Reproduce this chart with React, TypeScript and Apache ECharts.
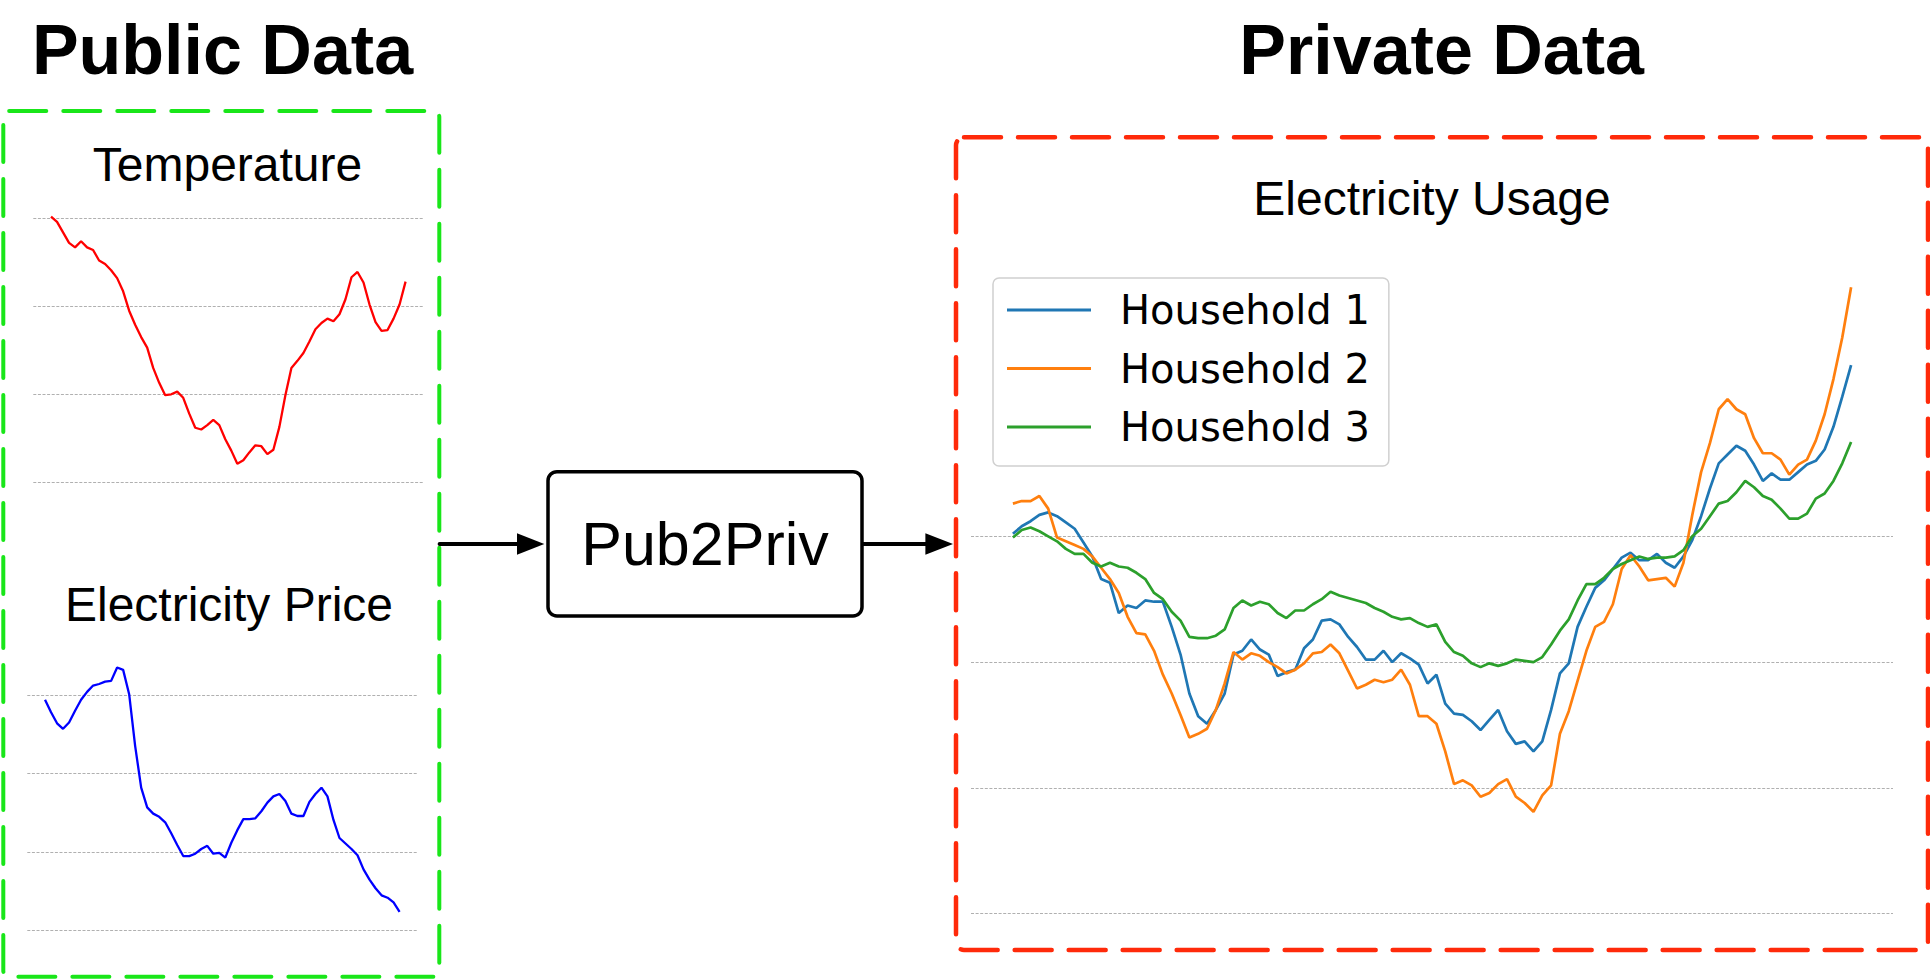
import React, { useEffect, useRef } from 'react';
import * as echarts from 'echarts';

// Public data (arbitrary units; dotted grid lines sit at 0, 1, 2, 3)
const temperature = [
  3.02, 2.96, 2.84, 2.72, 2.67, 2.74, 2.67, 2.64, 2.52, 2.48,
  2.41, 2.32, 2.17, 1.95, 1.79, 1.65, 1.53, 1.30, 1.13, 0.99,
  1.00, 1.03, 0.96, 0.78, 0.62, 0.60, 0.65, 0.71, 0.65, 0.49,
  0.36, 0.21, 0.25, 0.34, 0.42, 0.41, 0.32, 0.37, 0.63, 0.99,
  1.30, 1.38, 1.47, 1.60, 1.74, 1.81, 1.86, 1.83, 1.91, 2.08,
  2.33, 2.39, 2.27, 2.02, 1.82, 1.72, 1.73, 1.86, 2.02, 2.28,
];

const electricityPrice = [
  2.94, 2.78, 2.64, 2.57, 2.65, 2.80, 2.94, 3.04, 3.12, 3.14,
  3.17, 3.18, 3.35, 3.32, 3.01, 2.35, 1.82, 1.57, 1.49, 1.45,
  1.38, 1.24, 1.09, 0.95, 0.95, 0.98, 1.04, 1.08, 0.98, 0.99,
  0.93, 1.12, 1.28, 1.42, 1.42, 1.43, 1.52, 1.63, 1.71, 1.74,
  1.65, 1.49, 1.46, 1.46, 1.64, 1.74, 1.82, 1.71, 1.41, 1.18,
  1.11, 1.04, 0.96, 0.78, 0.65, 0.54, 0.45, 0.42, 0.36, 0.24,
];

// Private data: electricity usage of three households
const household1 = [
  3.02, 3.08, 3.12, 3.17, 3.19, 3.16, 3.11, 3.06, 2.95, 2.84,
  2.66, 2.63, 2.39, 2.45, 2.43, 2.49, 2.48, 2.48, 2.28, 2.06,
  1.75, 1.57, 1.51, 1.62, 1.75, 2.06, 2.09, 2.18, 2.10, 2.06,
  1.89, 1.92, 1.94, 2.11, 2.18, 2.33, 2.34, 2.30, 2.20, 2.12,
  2.02, 2.02, 2.09, 2.00, 2.07, 2.03, 1.98, 1.83, 1.90, 1.67,
  1.59, 1.58, 1.53, 1.46, 1.54, 1.62, 1.45, 1.35, 1.37, 1.29,
  1.37, 1.62, 1.91, 1.99, 2.28, 2.44, 2.59, 2.65, 2.74, 2.83,
  2.87, 2.81, 2.81, 2.86, 2.79, 2.75, 2.84, 2.97, 3.16, 3.38,
  3.58, 3.65, 3.72, 3.68, 3.57, 3.44, 3.50, 3.45, 3.45, 3.51,
  3.57, 3.60, 3.69, 3.87, 4.11, 4.36,
];

const household2 = [
  3.26, 3.28, 3.28, 3.32, 3.22, 2.99, 2.96, 2.93, 2.90, 2.84,
  2.75, 2.66, 2.55, 2.36, 2.23, 2.22, 2.09, 1.90, 1.75, 1.58,
  1.40, 1.43, 1.47, 1.62, 1.83, 2.08, 2.02, 2.07, 2.05, 2.00,
  1.96, 1.91, 1.94, 1.99, 2.07, 2.08, 2.14, 2.07, 1.93, 1.79,
  1.82, 1.86, 1.84, 1.86, 1.94, 1.82, 1.57, 1.57, 1.51, 1.29,
  1.03, 1.06, 1.02, 0.93, 0.96, 1.03, 1.07, 0.93, 0.88, 0.81,
  0.94, 1.02, 1.43, 1.61, 1.85, 2.09, 2.28, 2.32, 2.46, 2.74,
  2.85, 2.76, 2.65, 2.66, 2.67, 2.60, 2.79, 3.17, 3.51, 3.74,
  4.01, 4.09, 4.01, 3.97, 3.78, 3.66, 3.66, 3.61, 3.49, 3.57,
  3.61, 3.76, 3.97, 4.25, 4.58, 4.98,
];

const household3 = [
  2.99, 3.05, 3.07, 3.04, 3.00, 2.96, 2.90, 2.86, 2.86, 2.79,
  2.76, 2.79, 2.76, 2.75, 2.71, 2.66, 2.55, 2.50, 2.40, 2.33,
  2.20, 2.19, 2.19, 2.21, 2.26, 2.43, 2.49, 2.45, 2.48, 2.46,
  2.39, 2.35, 2.41, 2.41, 2.46, 2.50, 2.56, 2.53, 2.51, 2.49,
  2.47, 2.43, 2.40, 2.36, 2.34, 2.35, 2.31, 2.28, 2.30, 2.16,
  2.08, 2.05, 1.99, 1.96, 1.99, 1.97, 1.99, 2.02, 2.01, 2.00,
  2.04, 2.14, 2.25, 2.34, 2.49, 2.62, 2.62, 2.67, 2.74, 2.78,
  2.81, 2.84, 2.82, 2.83, 2.83, 2.84, 2.89, 3.00, 3.06, 3.16,
  3.26, 3.28, 3.35, 3.44, 3.39, 3.32, 3.29, 3.22, 3.14, 3.14,
  3.18, 3.30, 3.34, 3.44, 3.58, 3.75,
];

const householdNames = ['Household 1', 'Household 2', 'Household 3'];
const householdColors = ['#1f77b4', '#ff7f0e', '#2ca02c'];
const householdSeries = [household1, household2, household3];

const SANS = "'Liberation Sans', Arial, Helvetica, sans-serif";
const DEJAVU = "'DejaVu Sans', sans-serif";

const toPairs = (arr: number[]) => arr.map((v, i) => [i, v]);

const hiddenX = (len: number, gridIndex: number) => ({
  type: 'value',
  gridIndex,
  min: -0.05 * (len - 1),
  max: 1.05 * (len - 1),
  axisLine: { show: false },
  axisTick: { show: false },
  axisLabel: { show: false },
  splitLine: { show: false },
});

const dottedY = (gridIndex: number) => ({
  type: 'value',
  gridIndex,
  min: 0,
  max: 3,
  interval: 1,
  axisLine: { show: false },
  axisTick: { show: false },
  axisLabel: { show: false },
  splitLine: { show: true, lineStyle: { color: '#b0b0b0', width: 1.2, type: [3, 1.6] } },
});

const text = (t: string, x: number, y: number, font: string) => ({
  type: 'text',
  x,
  y,
  z: 10,
  style: { text: t, font, fill: '#000', textAlign: 'center', textVerticalAlign: 'middle' },
});

export default function App() {
  const ref = useRef<HTMLDivElement>(null);

  useEffect(() => {
    if (!ref.current) return;
    const chart = echarts.init(ref.current, null, { renderer: 'svg' });

    const option: any = {
      animation: false,
      backgroundColor: '#ffffff',
      grid: [
        { left: 33.3, top: 218.3, width: 390, height: 264 },
        { left: 27.3, top: 695, width: 390, height: 235.7 },
        { left: 971, top: 536.3, width: 922, height: 377.4 },
      ],
      xAxis: [
        hiddenX(temperature.length, 0),
        hiddenX(electricityPrice.length, 1),
        hiddenX(household1.length, 2),
      ],
      yAxis: [dottedY(0), dottedY(1), dottedY(2)],
      legend: {
        data: householdNames,
        orient: 'vertical',
        left: 993,
        top: 278,
        padding: [12, 19, 19, 14],
        itemWidth: 84,
        itemHeight: 3,
        itemGap: 18.5,
        icon: 'rect',
        borderColor: '#d0d0d0',
        borderWidth: 1.5,
        borderRadius: 6,
        backgroundColor: 'rgba(255,255,255,0.8)',
        selectedMode: false,
        textStyle: {
          fontFamily: DEJAVU,
          fontSize: 40,
          lineHeight: 40,
          color: '#000',
          padding: [0, 0, 0, 24],
        },
      },
      series: [
        {
          name: 'Temperature',
          type: 'line',
          xAxisIndex: 0,
          yAxisIndex: 0,
          data: toPairs(temperature),
          showSymbol: false,
          symbol: 'none',
          clip: false,
          lineStyle: { color: '#ff0000', width: 2.3 },
          itemStyle: { color: '#ff0000' },
        },
        {
          name: 'Electricity Price',
          type: 'line',
          xAxisIndex: 1,
          yAxisIndex: 1,
          data: toPairs(electricityPrice),
          showSymbol: false,
          symbol: 'none',
          clip: false,
          lineStyle: { color: '#0000ff', width: 2.3 },
          itemStyle: { color: '#0000ff' },
        },
        ...householdSeries.map((values, k) => ({
          name: householdNames[k],
          type: 'line',
          xAxisIndex: 2,
          yAxisIndex: 2,
          data: toPairs(values),
          showSymbol: false,
          symbol: 'none',
          clip: false,
          lineStyle: { color: householdColors[k], width: 2.7 },
          itemStyle: { color: householdColors[k] },
        })),
      ],
      graphic: [
        // dashed frames
        {
          type: 'rect',
          z: 1,
          shape: { x: 3.3, y: 111, width: 436, height: 865.7, r: 6 },
          style: { fill: 'none', stroke: '#19e619', lineWidth: 4, lineDash: [37, 17], lineCap: 'round' },
        },
        {
          type: 'rect',
          z: 1,
          shape: { x: 956, y: 137.3, width: 972, height: 812.7, r: 8 },
          style: { fill: 'none', stroke: '#ff2a0a', lineWidth: 4.5, lineDash: [37, 17], lineCap: 'round' },
        },
        // arrows and the model box
        {
          type: 'line',
          z: 5,
          shape: { x1: 439.6, y1: 544, x2: 520, y2: 544 },
          style: { stroke: '#000', lineWidth: 4, lineCap: 'round' },
        },
        {
          type: 'polygon',
          z: 5,
          shape: { points: [[517, 533.3], [544.3, 544], [517, 554.7]] },
          style: { fill: '#000' },
        },
        {
          type: 'rect',
          z: 5,
          shape: { x: 548, y: 471.7, width: 314, height: 144.3, r: 9 },
          style: { fill: '#fff', stroke: '#000', lineWidth: 3.5 },
        },
        {
          type: 'line',
          z: 5,
          shape: { x1: 862, y1: 544, x2: 928, y2: 544 },
          style: { stroke: '#000', lineWidth: 4 },
        },
        {
          type: 'polygon',
          z: 5,
          shape: { points: [[925.4, 533.3], [953, 544], [925.4, 554.7]] },
          style: { fill: '#000' },
        },
        text('Pub2Priv', 705, 544, `61px ${SANS}`),
        // titles
        text('Public Data', 222.5, 50, `bold 70px ${SANS}`),
        text('Private Data', 1441.7, 50, `bold 70px ${SANS}`),
        text('Temperature', 227.5, 164.2, `48px ${SANS}`),
        text('Electricity Price', 229, 604.5, `48px ${SANS}`),
        text('Electricity Usage', 1432, 198.5, `48px ${SANS}`),
      ],
    };

    chart.setOption(option);
    return () => chart.dispose();
  }, []);

  return (
    <div
      ref={ref}
      style={{ position: 'absolute', left: 0, top: 0, width: 1930, height: 979, background: '#fff' }}
    />
  );
}
